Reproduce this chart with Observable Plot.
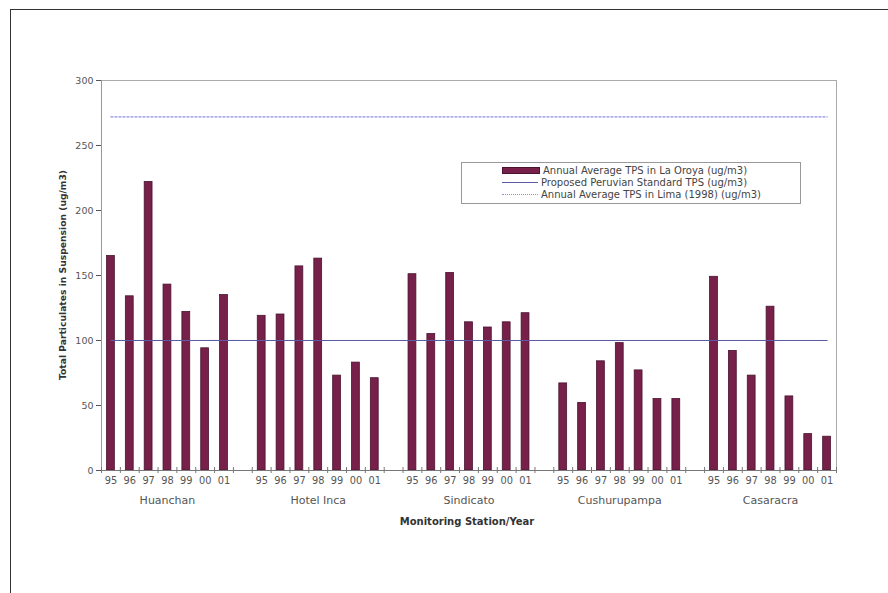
<!DOCTYPE html>
<html>
<head>
<meta charset="utf-8">
<script src="https://cdn.jsdelivr.net/npm/d3@7"></script>
<script src="https://cdn.jsdelivr.net/npm/@observablehq/plot@0.6"></script>
<style>
  html, body { margin: 0; padding: 0; background: #fff; overflow: hidden; }
  #wrap { position: relative; width: 888px; height: 593px; overflow: hidden; }
  #frame { position: absolute; left: 10px; top: 9px; width: 900px; height: 700px; border: 1.5px solid #333; box-sizing: border-box; pointer-events: none; }
  #legend { position: absolute; left: 461px; top: 162px; width: 340px; height: 42px; border: 1px solid #999; box-sizing: border-box; background: #fff; font: 10px "DejaVu Sans", sans-serif; color: #444; }
  .row { position: absolute; left: 40px; height: 12px; display: flex; align-items: center; white-space: nowrap; }
  .sw { width: 36px; margin-right: 3px; }
  #ylabel { position: absolute; left: 62px; top: 275px; transform: translate(-50%, -50%) rotate(-90deg); font: bold 9.2px "DejaVu Sans", sans-serif; color: #333; white-space: nowrap; }
  #xlabel { position: absolute; left: 467px; top: 521px; transform: translate(-50%, -50%); font: bold 10px "DejaVu Sans", sans-serif; color: #333; white-space: nowrap; }
</style>
</head>
<body>
<div id="wrap">
  <div id="chart"></div>
  <div id="frame"></div>
  <div id="legend"></div>
  <div id="ylabel"></div>
  <div id="xlabel"></div>
</div>
<script>
const stations = ["Huanchan", "Hotel Inca", "Sindicato", "Cushurupampa", "Casaracra"];
const years = ["95", "96", "97", "98", "99", "00", "01"];
const huanchan = [165, 134, 222, 143, 122, 94, 135];
const hotelInca = [119, 120, 157, 163, 73, 83, 71];
const sindicato = [151, 105, 152, 114, 110, 114, 121];
const cushurupampa = [67, 52, 84, 98, 77, 55, 55];
const casaracra = [149, 92, 73, 126, 57, 28, 26];
const peruStandard = 100;
const limaAverage = 272;
const yTicks = [0, 50, 100, 150, 200, 250, 300];
const seriesNames = [
  "Annual Average TPS in La Oroya (ug/m3)",
  "Proposed Peruvian Standard TPS (ug/m3)",
  "Annual Average TPS in Lima (1998) (ug/m3)"
];
const xTitle = "Monitoring Station/Year";
const yTitle = "Total Particulates in Suspension (ug/m3)";

const groups = [huanchan, hotelInca, sindicato, cushurupampa, casaracra];
const perGroup = years.length + 1; // one blank category between stations
const nCat = stations.length * perGroup - 1;

const bars = [];
groups.forEach((vals, g) => vals.forEach((v, j) => bars.push({i: g * perGroup + j, station: stations[g], year: years[j], v})));
const cats = d3.range(nCat).map(i => ({i, std: peruStandard, lima: limaAverage}));
const boundaries = d3.range(nCat + 1);
const stationLabels = stations.map((s, g) => ({s, i: g * perGroup + (years.length - 1) / 2}));

const barFill = "#76204a", barStroke = "#4a1430";
const stdColor = "#5b5ba3", limaColor = "#9090e0";

const plot = Plot.plot({
  width: 888,
  height: 593,
  marginLeft: 101,
  marginRight: 52,
  marginTop: 80,
  marginBottom: 123,
  style: {fontFamily: "DejaVu Sans, sans-serif", background: "transparent"},
  x: {type: "linear", domain: [0, nCat], axis: null},
  y: {domain: [0, 300], axis: null},
  marks: [
    Plot.frame({stroke: "#aaa"}),
    Plot.rectY(bars, {x1: d => d.i, x2: d => d.i + 1, y: "v", insetLeft: 5.5, insetRight: 5.5, fill: barFill, stroke: barStroke, strokeWidth: 0.8}),
    Plot.lineY(cats, {x: d => d.i + 0.5, y: "std", stroke: stdColor, strokeWidth: 1.2}),
    Plot.lineY(cats, {x: d => d.i + 0.5, y: "lima", stroke: limaColor, strokeWidth: 1.3, strokeDasharray: "2,2"}),
    Plot.ruleY([0], {stroke: "#777"}),
    Plot.ruleX([0], {stroke: "#999"}),
    Plot.ruleX(boundaries, {x: d => d, y1: 0, y2: 0, insetTop: -3, insetBottom: -3, stroke: "#777"}),
    Plot.axisY({ticks: yTicks, tickSize: 5, tickPadding: 3, fontSize: 9.5, color: "#555", label: null, tickFormat: d => String(d)}),
    Plot.text(bars, {x: d => d.i + 0.5, y: 0, text: "year", dy: 10, fontSize: 9.8, fill: "#555"}),
    Plot.text(stationLabels, {x: d => d.i + 0.5, y: 0, text: "s", dy: 30, fontSize: 11, fill: "#555"})
  ]
});
document.getElementById("chart").appendChild(plot);

document.getElementById("ylabel").textContent = yTitle;
document.getElementById("xlabel").textContent = xTitle;

const legend = document.getElementById("legend");
const swatches = [
  `<div class="sw" style="height:5px;background:${barFill};border:0.5px solid ${barStroke}"></div>`,
  `<div class="sw" style="height:0;border-top:1.2px solid ${stdColor}"></div>`,
  `<div class="sw" style="height:0;border-top:1.3px dotted ${limaColor}"></div>`
];
seriesNames.forEach((name, k) => {
  const row = document.createElement("div");
  row.className = "row";
  row.style.top = (1 + k * 12) + "px";
  row.innerHTML = swatches[k] + `<span>${name}</span>`;
  legend.appendChild(row);
});
</script>
</body>
</html>
